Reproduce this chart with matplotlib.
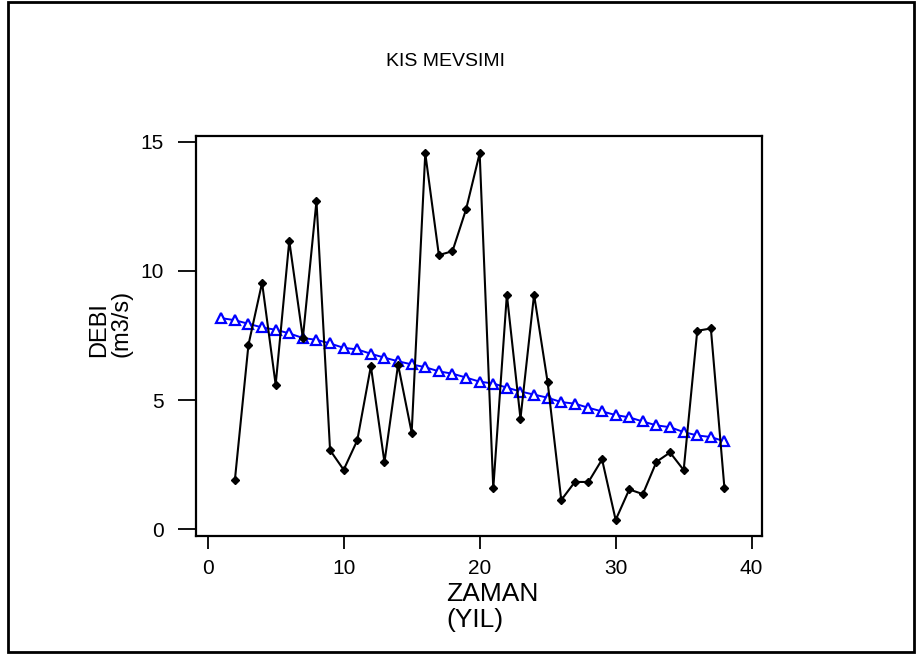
import matplotlib
matplotlib.use('Agg')
import matplotlib.pyplot as plt
from matplotlib.patches import Rectangle

# observed flows (black) and linear trend (blue), winter season
years = list(range(2, 39))
debi = [1.90, 7.14, 9.54, 5.59, 11.16, 7.40, 12.70, 3.06, 2.30, 3.44,
        6.31, 2.59, 6.37, 3.74, 14.55, 10.61, 10.76, 12.38, 14.55, 1.58,
        9.08, 4.28, 9.08, 5.68, 1.13, 1.83, 1.83, 2.70, 0.36, 1.54,
        1.36, 2.61, 2.97, 2.29, 7.68, 7.77, 1.58]

trend_years = list(range(1, 39))
trend = [8.17, 8.09, 7.95, 7.81, 7.72, 7.58, 7.40, 7.33, 7.19, 7.02,
         6.96, 6.79, 6.64, 6.50, 6.38, 6.27, 6.11, 6.02, 5.87, 5.71,
         5.64, 5.48, 5.33, 5.21, 5.09, 4.92, 4.86, 4.70, 4.56, 4.42,
         4.33, 4.17, 4.02, 3.95, 3.76, 3.63, 3.57, 3.40]

x_ticks = [0, 10, 20, 30, 40]
y_ticks = [0, 5, 10, 15]

plt.rcParams['font.family'] = ['Liberation Sans', 'DejaVu Sans']

W, H = 917, 657
fig = plt.figure(figsize=(W / 100, H / 100), dpi=100)

# frame round the whole figure
fig.patches.append(Rectangle((8 / W, 5 / H), 906 / W, 650 / H, transform=fig.transFigure,
                             fill=False, edgecolor='black', linewidth=2))

ax = fig.add_axes([195.7 / W, 1 - 535.7 / H, (762 - 195.7) / W, (535.7 - 135.7) / H])

ax.plot(trend_years, trend, color='blue', linewidth=1.4, marker='^', markersize=7,
        markerfacecolor='white', markeredgecolor='blue', markeredgewidth=1.6, zorder=2)
ax.plot(years, debi, color='black', linewidth=1.5, marker='D', markersize=4,
        markerfacecolor='black', markeredgecolor='black', zorder=3)

ax.set_xlim(-0.88, 40.76)
ax.set_ylim(-0.25, 15.23)
ax.set_xticks(x_ticks)
ax.set_yticks(y_ticks)
ax.tick_params(axis='x', direction='out', length=9.5, width=1.3, pad=7, labelsize=15)
ax.tick_params(axis='y', direction='out', length=13, width=1.3, pad=10, labelsize=15)
for s in ax.spines.values():
    s.set_linewidth(1.6)

fig.text(446 / W, 1 - 62 / H, 'KIS MEVSIMI', ha='center', va='center', fontsize=14)

fig.text(88 / W, 1 - 357 / H, 'DEBI\n(m3/s)', rotation=90, ha='left', va='bottom',
         multialignment='left', fontsize=17, linespacing=1.05)
fig.text(446 / W, 1 - 582 / H, 'ZAMAN\n(YIL)', ha='left', va='top',
         multialignment='left', fontsize=19, linespacing=1.1)

fig.savefig('out.png', dpi=100)
